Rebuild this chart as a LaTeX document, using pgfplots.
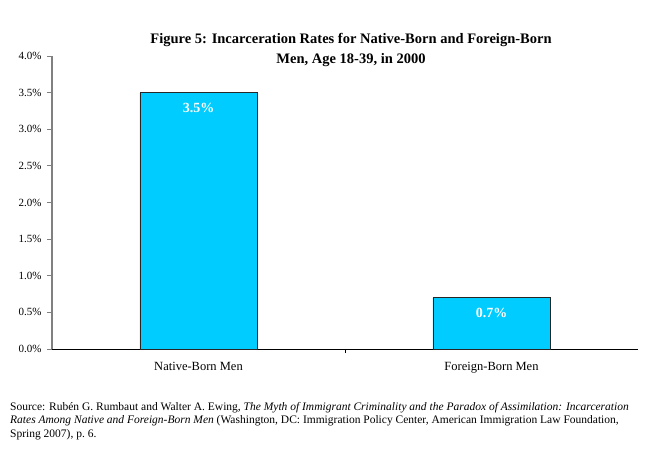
\documentclass[border=0pt]{standalone}
\usepackage{pgfplots}
\pgfplotsset{compat=1.18}
\usepackage{fontspec}
\setmainfont{Liberation Serif}
\definecolor{barblue}{RGB}{0,204,255}
\definecolor{axgray}{RGB}{128,128,128}
\begin{document}
\begin{tikzpicture}[x=1pt,y=1pt]
\path[use as bounding box] (0,0) rectangle (645,453);
\begin{axis}[
  at={(52pt,104pt)}, anchor=south west,
  scale only axis, width=586pt, height=293pt,
  xmin=-0.5, xmax=1.5, ymin=0, ymax=4,
  axis x line=bottom, axis y line=left,
  axis line style={-},
  x axis line style={black, line width=0.8pt},
  y axis line style={axgray, line width=1.2pt},
  ytick={0,0.5,1,1.5,2,2.5,3,3.5,4},
  yticklabels={0.0\%,0.5\%,1.0\%,1.5\%,2.0\%,2.5\%,3.0\%,3.5\%,4.0\%},
  ytick style={axgray, line width=0.8pt},
  tick align=outside, major tick length=5pt,
  xtick={0,1},
  xticklabels={Native-Born Men,Foreign-Born Men},
  xtick style={draw=none},
  extra x ticks={0.5}, extra x tick labels={},
  extra x tick style={xtick style={draw=black, line width=0.8pt}, major tick length=4pt},
  yticklabel style={font=\fontsize{11}{13}\selectfont, xshift=-2pt},
  xticklabel style={font=\fontsize{12.5}{14}\selectfont, yshift=-5pt},
  ybar, bar width=0.4,
  point meta=explicit symbolic,
  nodes near coords,
  every node near coord/.append style={font=\bfseries\fontsize{14}{16}\selectfont, text=white, anchor=center, yshift=-15pt},
  clip=false,
]
\addplot[fill=barblue, draw=black!85, line width=0.8pt] coordinates {(0,3.5)[3.5\%] (1,0.7)[0.7\%]};
\end{axis}
\node[align=center, font=\bfseries\fontsize{14.5}{20}\selectfont] at (351,403) {Figure 5: Incarceration Rates for Native-Born and Foreign-Born\\Men, Age 18-39, in 2000};
\node[align=left, anchor=north west, inner sep=0pt, font=\fontsize{11.5}{13.5}\selectfont] at (10,51) {Source: Rubén G. Rumbaut and Walter A. Ewing, \textit{The Myth of Immigrant Criminality and the Paradox of Assimilation: Incarceration}\\\textit{Rates Among Native and Foreign-Born Men} (Washington, DC: Immigration Policy Center, American Immigration Law Foundation,\\Spring 2007), p.\ 6.};
\end{tikzpicture}
\end{document}
